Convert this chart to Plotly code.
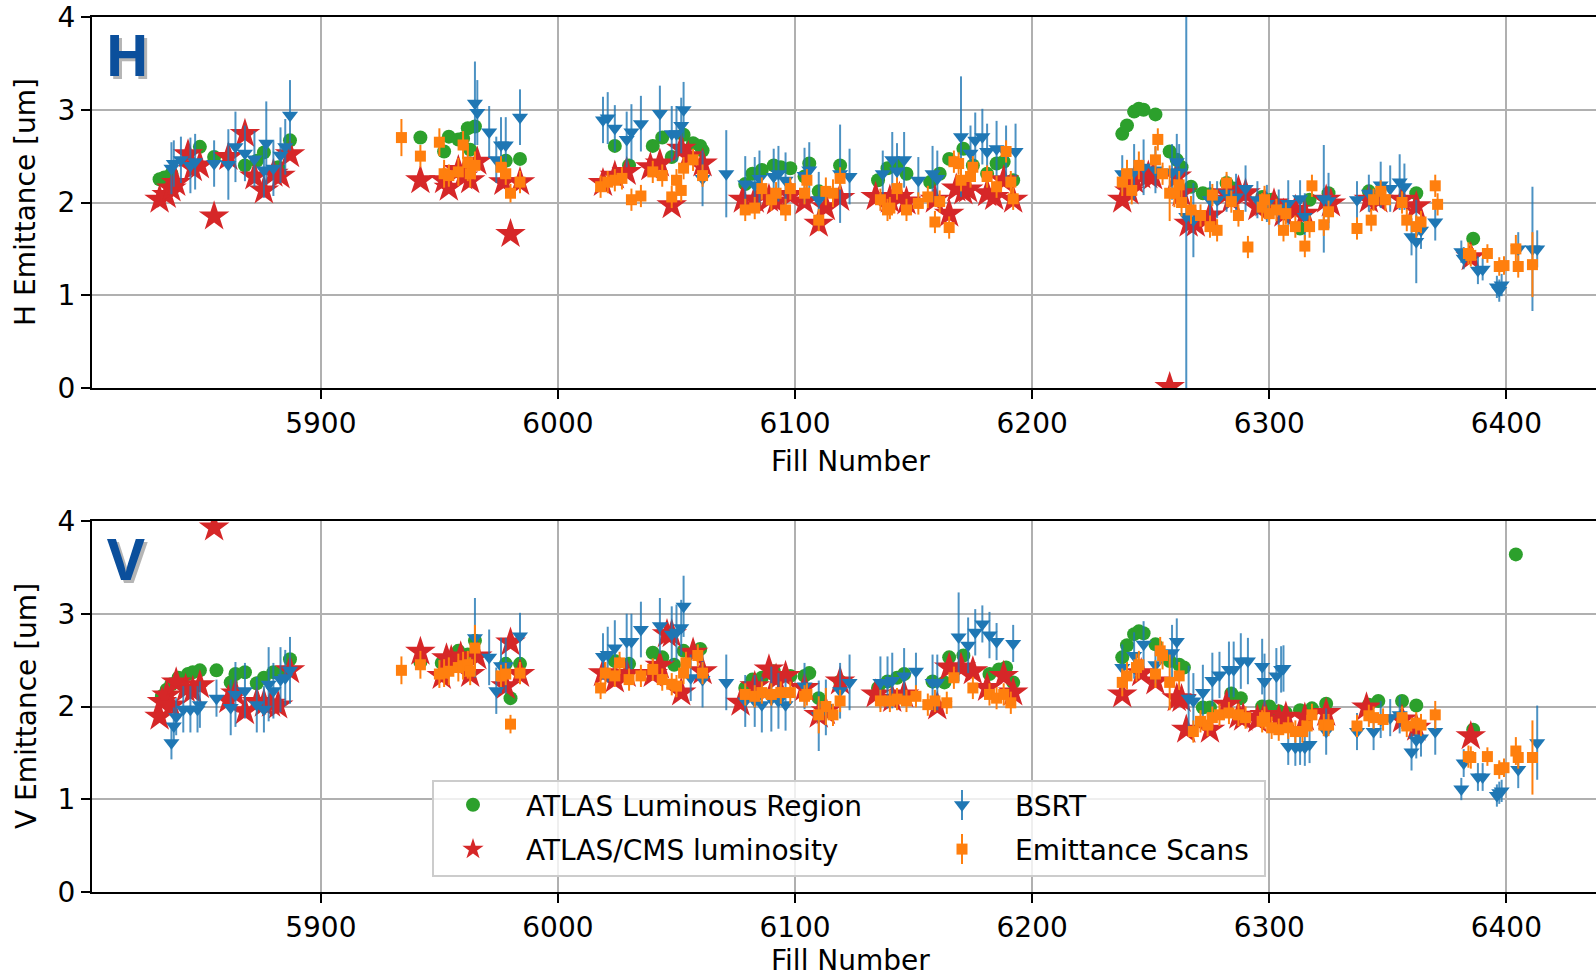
import plotly.graph_objects as go

# ---------------- DATA ----------------
TICKS_X = [5900, 6000, 6100, 6200, 6300, 6400]
TICKS_Y = [0, 1, 2, 3, 4]

# ---- H plane ----
H_LUMREG_X = [5832, 5834, 5837, 5849, 5855, 5868, 5873, 5876, 5882, 5887,
              5942, 5952, 5954, 5958, 5960, 5962, 5965, 5963, 5978, 5984,
              6024, 6030, 6040, 6044, 6048, 6053, 6057, 6060, 6061,
              6079, 6082, 6086, 6091, 6094, 6098, 6104, 6106, 6110, 6119,
              6135, 6139, 6143, 6147, 6157, 6161, 6165, 6171, 6175, 6181, 6185, 6188, 6192,
              6238, 6240, 6243, 6245, 6247, 6252, 6258, 6261, 6263, 6267, 6272, 6275, 6282, 6285,
              6297, 6301, 6313, 6317, 6325,
              6342, 6362,
              6386]
H_LUMREG_Y = [2.25, 2.27, 2.31, 2.60, 2.49, 2.40, 2.45, 2.54, 2.38, 2.67,
              2.70, 2.55, 2.71, 2.68, 2.69, 2.80, 2.82, 2.57, 2.45, 2.47,
              2.61, 2.40, 2.61, 2.70, 2.49, 2.73, 2.64, 2.61, 2.56,
              2.20, 2.31, 2.35, 2.40, 2.38, 2.37, 2.28, 2.42, 2.12, 2.40,
              2.24, 2.37, 2.40, 2.31, 2.22, 2.31, 2.47, 2.58, 2.40, 2.31, 2.42, 2.44, 2.24,
              2.74, 2.83, 2.98, 3.01, 3.00, 2.95, 2.55, 2.46, 2.38, 2.17, 2.10, 2.09, 2.21, 2.15,
              2.06, 2.03, 1.72, 2.03, 2.10,
              2.12, 2.10,
              1.61]

H_LUMI_X = [5832, 5835, 5837, 5839, 5844, 5846, 5849, 5855, 5861, 5868, 5872, 5876, 5880, 5883, 5887,
            5942, 5952, 5954, 5958, 5960, 5963, 5966, 5977, 5980, 5984,
            6019, 6024, 6029, 6039, 6043, 6048, 6052, 6055, 6061,
            6078, 6083, 6089, 6092, 6098, 6104, 6110, 6113, 6119,
            6134, 6140, 6144, 6147, 6159, 6165, 6168, 6171, 6173, 6181, 6184, 6188, 6192,
            6238, 6241, 6243, 6246, 6249, 6251, 6258, 6261, 6263, 6266, 6269, 6275, 6282, 6284, 6287, 6290,
            6295, 6298, 6302, 6306, 6311, 6315, 6324, 6326,
            6342, 6346, 6356, 6362,
            6385]
H_LUMI_Y = [2.03, 2.08, 2.15, 2.21, 2.52, 2.37, 2.40, 1.85, 2.49, 2.74, 2.28, 2.13, 2.31, 2.29, 2.52,
            2.24, 2.24, 2.16, 2.35, 2.28, 2.24, 2.44, 2.22, 1.66, 2.22,
            2.21, 2.29, 2.33, 2.38, 2.42, 1.97, 2.58, 2.50, 2.42,
            2.03, 2.03, 2.04, 2.01, 2.08, 2.01, 1.77, 1.95, 2.05,
            2.06, 2.03, 2.06, 2.01, 2.03, 1.88, 2.15, 2.12, 2.14, 2.10, 2.06, 2.24, 2.03,
            2.03, 2.12, 2.24, 2.29, 2.29, 2.28, 0.01, 2.28, 2.10, 1.77, 1.77, 1.86, 2.10, 2.03, 2.13, 2.10,
            1.95, 1.99, 1.99, 1.88, 1.92, 1.88, 2.03, 1.99,
            2.03, 2.03, 2.03, 1.96,
            1.41]

H_BSRT_X = [5837, 5838, 5841, 5845, 5847, 5855, 5861, 5864, 5868, 5872, 5876, 5877, 5880, 5883, 5885, 5887,
            5965, 5966, 5971, 5974, 5976, 5978, 5984,
            6019, 6021, 6024, 6029, 6031, 6035, 6043, 6048, 6050, 6052, 6053, 6061, 6071,
            6079, 6083, 6085, 6091, 6093, 6096, 6104, 6106, 6110, 6119, 6123,
            6137, 6141, 6143, 6146, 6152, 6158, 6160, 6170, 6174, 6176, 6179, 6181, 6185, 6189, 6193,
            6238, 6243, 6247, 6252, 6259, 6261, 6262, 6265, 6268, 6275, 6278, 6282, 6286, 6290,
            6295, 6299, 6304, 6308, 6313, 6315, 6323, 6325,
            6337, 6342, 6347, 6351, 6355, 6357, 6360, 6362, 6364, 6370,
            6381, 6382, 6388, 6390, 6396, 6397, 6398, 6405, 6411, 6413]
H_BSRT_Y = [2.37, 2.42, 2.46, 2.40, 2.44, 2.42, 2.41, 2.60, 2.53, 2.47, 2.35, 2.64, 2.37, 2.51, 2.60, 2.94,
            3.07, 2.97, 2.76, 2.46, 2.62, 2.62, 2.92,
            2.89, 2.91, 2.80, 2.68, 2.76, 2.85, 2.96, 2.74, 2.74, 2.83, 3.00, 2.26, 2.31,
            2.20, 2.19, 2.26, 2.28, 2.31, 2.24, 2.29, 2.35, 2.03, 2.31, 2.28,
            2.31, 2.46, 2.34, 2.46, 2.24, 2.31, 2.26, 2.71, 2.53, 2.67, 2.71, 2.55, 2.58, 2.53, 2.55,
            2.31, 2.33, 2.38, 2.35, 2.33, 2.44, 2.33, 1.85, 1.81, 2.03, 2.03, 2.10, 2.06, 2.15,
            2.03, 1.99, 1.94, 1.99, 2.04, 1.85, 2.04, 2.02,
            2.03, 2.10, 2.19, 2.15, 2.22, 2.17, 1.63, 1.58, 1.70, 1.79,
            1.47, 1.40, 1.27, 1.28, 1.09, 1.05, 1.11, 1.50, 1.50, 1.50]
H_BSRT_E = [0.28, 0.25, 0.25, 0.30, 0.30, 0.25, 0.38, 0.38, 0.30, 0.30, 0.30, 0.45, 0.30, 0.30, 0.30, 0.38,
            0.45, 0.35, 0.28, 0.25, 0.30, 0.30, 0.30,
            0.25, 0.28, 0.25, 0.30, 0.30, 0.30, 0.30, 0.30, 0.30, 0.30, 0.30, 0.30, 0.47,
            0.30, 0.30, 0.30, 0.30, 0.30, 0.30, 0.30, 0.30, 0.30, 0.53, 0.30,
            0.25, 0.30, 0.30, 0.30, 0.25, 0.30, 0.30, 0.65, 0.30, 0.30, 0.30, 0.30, 0.30, 0.30, 0.30,
            0.20, 0.30, 0.30, 0.25, 0.30, 0.30, 0.30, 2.60, 0.40, 0.20, 0.20, 0.20, 0.25, 0.25,
            0.20, 0.20, 0.20, 0.25, 0.20, 0.25, 0.58, 0.30,
            0.20, 0.20, 0.25, 0.25, 0.30, 0.25, 0.20, 0.45, 0.20, 0.20,
            0.12, 0.12, 0.15, 0.12, 0.12, 0.12, 0.12, 0.18, 0.67, 0.20]

H_SCAN_X = [5934, 5942, 5950, 5952, 5954, 5958, 5960, 5962, 5963, 5965, 5976, 5978, 5980, 5984,
            6018, 6021, 6024, 6027, 6031, 6035, 6040, 6044, 6048, 6050, 6052, 6053, 6057, 6061,
            6079, 6083, 6086, 6090, 6092, 6096, 6098, 6104, 6105, 6110, 6113, 6116, 6119,
            6136, 6139, 6140, 6143, 6147, 6152, 6156, 6159, 6161, 6165, 6167, 6169, 6170, 6174, 6175, 6181, 6185, 6189, 6191, 6192,
            6238, 6240, 6242, 6245, 6252, 6253, 6255, 6258, 6260, 6262, 6263, 6267, 6271, 6275, 6278, 6276, 6282, 6284, 6287, 6291,
            6297, 6298, 6300, 6303, 6306, 6307, 6311, 6315, 6317, 6318, 6323, 6325,
            6337, 6343, 6344, 6347, 6349, 6356, 6358, 6362, 6364, 6370, 6371,
            6384, 6385, 6392, 6397, 6399, 6404, 6405, 6411]
H_SCAN_Y = [2.70, 2.50, 2.65, 2.31, 2.29, 2.33, 2.62, 2.43, 2.31, 2.40, 2.38, 2.31, 2.10, 2.22,
            2.17, 2.22, 2.24, 2.26, 2.03, 2.07, 2.33, 2.29, 2.06, 2.24, 2.13, 2.37, 2.46, 2.29,
            1.92, 1.94, 2.15, 2.03, 2.10, 1.92, 2.15, 2.10, 2.24, 1.81, 2.12, 2.10, 2.26,
            2.03, 1.92, 1.94, 2.15, 1.92, 1.99, 2.06, 1.79, 2.01, 1.73, 2.44, 2.42, 2.24, 2.28, 2.38, 2.28, 2.17, 2.55, 2.22, 2.04,
            2.22, 2.31, 2.13, 2.40, 2.46, 2.68, 2.31, 2.10, 2.10, 2.19, 2.00, 1.92, 1.86, 1.74, 1.70, 2.08, 2.21, 2.01, 1.86, 1.52,
            1.95, 2.03, 1.88, 1.92, 1.70, 1.88, 1.74, 1.53, 1.74, 2.18, 1.76, 1.90,
            1.72, 1.81, 2.03, 2.12, 2.03, 2.00, 1.81, 1.74, 1.79, 2.18, 1.98,
            1.45, 1.43, 1.45, 1.31, 1.32, 1.50, 1.31, 1.33]
H_SCAN_E = [0.20, 0.12, 0.15, 0.15, 0.12, 0.15, 0.15, 0.20, 0.15, 0.15, 0.12, 0.12, 0.10, 0.12,
            0.12, 0.12, 0.12, 0.12, 0.12, 0.12, 0.12, 0.12, 0.12, 0.12, 0.12, 0.12, 0.12, 0.12,
            0.12, 0.12, 0.12, 0.12, 0.12, 0.12, 0.12, 0.12, 0.12, 0.12, 0.15, 0.15, 0.12,
            0.12, 0.12, 0.12, 0.12, 0.12, 0.12, 0.12, 0.12, 0.12, 0.12, 0.12, 0.12, 0.12, 0.12, 0.12, 0.12, 0.12, 0.12, 0.12, 0.12,
            0.15, 0.15, 0.15, 0.15, 0.15, 0.12, 0.12, 0.30, 0.15, 0.15, 0.15, 0.15, 0.12, 0.12, 0.12, 0.12, 0.12, 0.12, 0.12, 0.12,
            0.15, 0.15, 0.12, 0.12, 0.12, 0.12, 0.12, 0.12, 0.12, 0.12, 0.12, 0.12,
            0.12, 0.12, 0.12, 0.12, 0.12, 0.12, 0.12, 0.12, 0.12, 0.12, 0.12,
            0.12, 0.12, 0.10, 0.10, 0.10, 0.15, 0.12, 0.35]

# ---- V plane ----
V_LUMREG_X = [5833, 5835, 5837, 5840, 5844, 5846, 5849, 5856, 5862, 5864, 5868, 5873, 5876, 5880, 5883, 5887,
              5942, 5951, 5954, 5958, 5962, 5965, 5978, 5980, 5984,
              6024, 6030, 6040, 6044, 6049, 6053, 6060,
              6079, 6082, 6086, 6091, 6098, 6104, 6106, 6110, 6119,
              6135, 6139, 6143, 6146, 6158, 6163, 6165, 6171, 6182, 6186, 6189, 6192,
              6238, 6240, 6243, 6245, 6247, 6252, 6258, 6262, 6264, 6272, 6275, 6284, 6288,
              6297, 6300, 6304, 6307, 6313, 6318, 6324,
              6342, 6346, 6356, 6362,
              6386, 6404]
V_LUMREG_Y = [2.11, 2.18, 2.24, 2.31, 2.35, 2.37, 2.39, 2.39, 2.26, 2.35, 2.37, 2.25, 2.31, 2.37, 2.36, 2.51,
              2.48, 2.47, 2.52, 2.60, 2.56, 2.71, 2.46, 2.09, 2.46,
              2.49, 2.46, 2.58, 2.53, 2.45, 2.60, 2.62,
              2.20, 2.29, 2.31, 2.38, 2.33, 2.33, 2.36, 2.09, 2.27,
              2.20, 2.27, 2.31, 2.35, 2.27, 2.26, 2.53, 2.55, 2.35, 2.40, 2.42, 2.26,
              2.53, 2.66, 2.78, 2.81, 2.79, 2.67, 2.49, 2.45, 2.42, 1.99, 1.99, 2.14, 2.09,
              2.00, 2.00, 1.95, 1.93, 1.96, 1.98, 2.03,
              2.02, 2.06, 2.06, 2.01,
              1.75, 3.64]

V_LUMI_X = [5832, 5833, 5835, 5837, 5839, 5843, 5846, 5849, 5855, 5861, 5864, 5868, 5873, 5876, 5879, 5882, 5887,
            5942, 5951, 5953, 5955, 5959, 5963, 5966, 5978, 5980, 5984,
            6019, 6024, 6029, 6040, 6043, 6046, 6048, 6052, 6057, 6061,
            6077, 6083, 6089, 6092, 6096, 6104, 6110, 6113, 6119,
            6134, 6141, 6146, 6160, 6165, 6170, 6175, 6181, 6188, 6192,
            6238, 6246, 6252, 6261, 6263, 6265, 6275, 6282, 6287, 6289,
            6295, 6298, 6304, 6307, 6315, 6324,
            6341, 6356, 6362,
            6385]
V_LUMI_Y = [1.89, 2.05, 2.12, 2.01, 2.26, 2.19, 2.17, 2.23, 3.93, 2.07, 2.14, 1.95, 2.05, 2.03, 2.03, 2.01, 2.39,
            2.59, 2.33, 2.52, 2.50, 2.54, 2.35, 2.54, 2.22, 2.69, 2.35,
            2.36, 2.29, 2.35, 2.35, 2.44, 2.78, 2.78, 2.15, 2.58, 2.38,
            2.04, 2.22, 2.40, 2.30, 2.33, 2.20, 1.91, 1.95, 2.27,
            2.13, 2.08, 2.13, 2.00, 2.42, 2.42, 2.38, 2.20, 2.33, 2.15,
            2.13, 2.36, 2.27, 2.09, 2.08, 1.75, 1.75, 2.02, 1.90, 1.88,
            1.86, 1.91, 1.86, 1.89, 1.88, 1.93,
            1.99, 1.86, 1.77,
            1.68]

V_BSRT_X = [5837, 5838, 5839, 5842, 5845, 5848, 5849, 5856, 5862, 5864, 5868, 5873, 5876, 5878, 5880, 5883, 5885, 5887,
            5965, 5971, 5974, 5976, 5978, 5984,
            6019, 6021, 6024, 6029, 6031, 6035, 6043, 6048, 6050, 6052, 6053, 6056, 6061, 6071,
            6079, 6083, 6086, 6090, 6093, 6096, 6104, 6110, 6113, 6119, 6123,
            6136, 6139, 6141, 6146, 6151, 6158, 6160, 6169, 6173, 6176, 6179, 6182, 6185, 6192,
            6238, 6243, 6247, 6252, 6259, 6261, 6266, 6268, 6272, 6276, 6279, 6283, 6285, 6288, 6291,
            6297, 6298, 6303, 6305, 6306, 6308, 6311, 6313, 6315, 6317, 6324,
            6337, 6344, 6347, 6351, 6355, 6360, 6362, 6364, 6370,
            6381, 6382, 6388, 6390, 6396, 6397, 6398, 6405, 6413]
V_BSRT_Y = [1.61, 1.79, 1.89, 1.97, 1.97, 1.97, 2.02, 2.09, 1.99, 2.13, 2.17, 2.02, 1.97, 2.24, 2.17, 2.29, 2.31, 2.39,
            2.74, 2.53, 2.17, 2.44, 2.44, 2.76,
            2.54, 2.56, 2.63, 2.70, 2.70, 2.83, 2.87, 2.78, 2.80, 2.85, 3.08, 2.31, 2.29, 2.26,
            2.06, 2.06, 2.02, 2.08, 2.06, 2.02, 2.22, 1.90, 1.99, 2.17, 2.26,
            2.26, 2.26, 2.28, 2.33, 2.38, 2.26, 2.26, 2.75, 2.66, 2.80, 2.89, 2.77, 2.70, 2.68,
            2.42, 2.55, 2.67, 2.45, 2.58, 2.70, 2.09, 2.06, 2.15, 2.28, 2.34, 2.40, 2.40, 2.49, 2.49,
            2.43, 2.27, 2.33, 2.40, 2.41, 1.57, 1.56, 1.57, 1.56, 1.59, 1.73,
            1.73, 1.73, 1.86, 1.88, 1.91, 1.51, 1.64, 1.66, 1.73,
            1.11, 1.39, 1.24, 1.24, 1.04, 1.07, 1.09, 1.32, 1.61]
V_BSRT_E = [0.18, 0.20, 0.20, 0.25, 0.25, 0.25, 0.25, 0.20, 0.30, 0.35, 0.30, 0.30, 0.25, 0.40, 0.30, 0.35, 0.30, 0.36,
            0.43, 0.30, 0.25, 0.30, 0.30, 0.25,
            0.25, 0.30, 0.30, 0.30, 0.30, 0.30, 0.30, 0.30, 0.30, 0.30, 0.33, 0.25, 0.30, 0.30,
            0.28, 0.28, 0.30, 0.35, 0.30, 0.28, 0.25, 0.38, 0.30, 0.30, 0.30,
            0.28, 0.28, 0.30, 0.30, 0.20, 0.30, 0.30, 0.48, 0.30, 0.25, 0.20, 0.25, 0.20, 0.20,
            0.25, 0.25, 0.25, 0.20, 0.30, 0.25, 0.35, 0.30, 0.30, 0.30, 0.25, 0.30, 0.30, 0.30, 0.25,
            0.30, 0.30, 0.30, 0.25, 0.25, 0.20, 0.20, 0.20, 0.20, 0.20, 0.25,
            0.20, 0.20, 0.20, 0.20, 0.20, 0.20, 0.20, 0.20, 0.25,
            0.12, 0.15, 0.15, 0.15, 0.12, 0.12, 0.12, 0.20, 0.40]

V_SCAN_X = [5934, 5942, 5950, 5952, 5954, 5958, 5960, 5962, 5963, 5965, 5976, 5978, 5980, 5984,
            6018, 6020, 6024, 6026, 6030, 6035, 6040, 6044, 6048, 6050, 6053, 6054, 6059, 6061,
            6079, 6083, 6086, 6090, 6094, 6098, 6104, 6105, 6110, 6113, 6116, 6119,
            6136, 6140, 6143, 6147, 6151, 6156, 6159, 6164, 6167, 6175, 6182, 6185, 6188, 6191,
            6238, 6240, 6244, 6245, 6252, 6254, 6255, 6258, 6262, 6268, 6271, 6274, 6276, 6279, 6283, 6287, 6290,
            6297, 6298, 6301, 6304, 6308, 6311, 6314, 6316, 6318, 6323, 6325,
            6337, 6342, 6344, 6348, 6356, 6358, 6362, 6364, 6370,
            6384, 6385, 6392, 6397, 6399, 6404, 6405, 6411]
V_SCAN_Y = [2.39, 2.45, 2.35, 2.36, 2.38, 2.42, 2.44, 2.45, 2.38, 2.63, 2.33, 2.35, 1.81, 2.36,
            2.20, 2.36, 2.33, 2.47, 2.29, 2.33, 2.40, 2.29, 2.24, 2.22, 2.36, 2.47, 2.55, 2.36,
            2.13, 2.11, 2.15, 2.13, 2.15, 2.15, 2.11, 2.13, 1.91, 2.00, 1.91, 2.06,
            2.06, 2.06, 2.08, 2.06, 2.11, 2.02, 2.06, 2.04, 2.31, 2.20, 2.13, 2.09, 2.13, 2.04,
            2.26, 2.33, 2.42, 2.45, 2.35, 2.60, 2.55, 2.26, 2.33, 1.73, 1.84, 1.80, 1.88, 1.91, 1.93, 1.91, 1.88,
            1.84, 1.88, 1.77, 1.75, 1.77, 1.73, 1.73, 1.79, 1.91, 1.80, 1.80,
            1.79, 1.90, 1.88, 1.86, 1.88, 1.79, 1.82, 1.80, 1.91,
            1.46, 1.45, 1.46, 1.32, 1.34, 1.52, 1.45, 1.45]
V_SCAN_E = [0.15, 0.15, 0.15, 0.15, 0.15, 0.15, 0.15, 0.15, 0.15, 0.25, 0.12, 0.12, 0.10, 0.12,
            0.12, 0.12, 0.12, 0.12, 0.12, 0.12, 0.12, 0.12, 0.12, 0.12, 0.12, 0.12, 0.12, 0.12,
            0.12, 0.12, 0.12, 0.12, 0.12, 0.12, 0.12, 0.12, 0.20, 0.20, 0.12, 0.12,
            0.12, 0.12, 0.12, 0.12, 0.12, 0.12, 0.12, 0.12, 0.12, 0.12, 0.12, 0.12, 0.12, 0.12,
            0.15, 0.15, 0.15, 0.15, 0.15, 0.15, 0.15, 0.30, 0.15, 0.12, 0.12, 0.12, 0.12, 0.12, 0.12, 0.12, 0.12,
            0.12, 0.12, 0.12, 0.12, 0.12, 0.12, 0.12, 0.12, 0.12, 0.12, 0.12,
            0.12, 0.12, 0.12, 0.12, 0.12, 0.12, 0.12, 0.12, 0.15,
            0.12, 0.12, 0.10, 0.10, 0.10, 0.15, 0.12, 0.40]

NAMES = ["ATLAS Luminous Region", "ATLAS/CMS luminosity", "BSRT", "Emittance Scans"]
COLORS = ["#2ca02c", "#d62728", "#1f77b4", "#ff7f0e"]

# ---------------- FIGURE ----------------
W, H = 1596, 979
FONT = "DejaVu Sans"


def px_x(p):
    return p / W


def px_y(p):
    return 1 - p / H


fig = go.Figure()


def add_panel(xa, ya, lx, ly, rx, ry, bx, by, be, sx, sy, se, show):
    common = dict(xaxis=xa, yaxis=ya, mode="markers")
    fig.add_trace(go.Scatter(x=lx, y=ly, name=NAMES[0], legend="legend",
                             legendgroup="g1", showlegend=show, legendrank=1,
                             marker=dict(symbol="circle", size=14, color=COLORS[0]), **common))
    fig.add_trace(go.Scatter(x=rx, y=ry, name=NAMES[1], legend="legend",
                             legendgroup="g2", showlegend=show, legendrank=2,
                             marker=dict(symbol="star", size=23, color=COLORS[1]), **common))
    fig.add_trace(go.Scatter(x=bx, y=by, name=NAMES[2], legend="legend2",
                             legendgroup="g3", showlegend=show, legendrank=3,
                             marker=dict(symbol="triangle-down", size=14, color=COLORS[2]),
                             error_y=dict(type="data", array=be, visible=True, thickness=2,
                                          width=0, color="rgba(31,119,180,0.8)"), **common))
    fig.add_trace(go.Scatter(x=sx, y=sy, name=NAMES[3], legend="legend2",
                             legendgroup="g4", showlegend=show, legendrank=4,
                             marker=dict(symbol="square", size=11, color=COLORS[3]),
                             error_y=dict(type="data", array=se, visible=True, thickness=2,
                                          width=0, color=COLORS[3]), **common))


add_panel("x", "y", H_LUMREG_X, H_LUMREG_Y, H_LUMI_X, H_LUMI_Y,
          H_BSRT_X, H_BSRT_Y, H_BSRT_E, H_SCAN_X, H_SCAN_Y, H_SCAN_E, False)
add_panel("x2", "y2", V_LUMREG_X, V_LUMREG_Y, V_LUMI_X, V_LUMI_Y,
          V_BSRT_X, V_BSRT_Y, V_BSRT_E, V_SCAN_X, V_SCAN_Y, V_SCAN_E, True)

XRANGE = [5803.5, 6437.8]
xdom = [px_x(92), 1.0]

axis_common = dict(showline=True, linecolor="black", linewidth=2, automargin=False,
                   ticks="outside", ticklen=9, tickwidth=2, tickcolor="black",
                   showgrid=True, gridcolor="#b0b0b0", gridwidth=2,
                   zeroline=False, tickfont=dict(family=FONT, size=28, color="black"))

# legend frame and the error-bar strokes of the legend symbols (decoration only)
shapes = [dict(type="rect", xref="paper", yref="paper",
               x0=px_x(433), x1=px_x(1265), y0=px_y(876), y1=px_y(781),
               fillcolor="rgba(255,255,255,0.8)", line=dict(color="#cccccc", width=2),
               layer="above")]
for cy, col in [(805, "rgba(31,119,180,0.85)"), (849, COLORS[3])]:
    shapes.append(dict(type="line", xref="paper", yref="paper",
                       x0=px_x(962), x1=px_x(962), y0=px_y(cy + 15), y1=px_y(cy - 15),
                       line=dict(color=col, width=2), layer="above"))

fig.update_layout(
    width=W, height=H,
    margin=dict(l=0, r=0, t=0, b=0, autoexpand=False),
    paper_bgcolor="white", plot_bgcolor="white",
    font=dict(family=FONT, color="black"),
    xaxis=dict(domain=xdom, range=XRANGE, tickvals=TICKS_X, mirror=True, anchor="y", **axis_common),
    yaxis=dict(domain=[px_y(388), px_y(17)], range=[0, 4], tickvals=TICKS_Y, anchor="x", **axis_common),
    xaxis2=dict(domain=xdom, range=XRANGE, tickvals=TICKS_X, mirror=True, anchor="y2", **axis_common),
    yaxis2=dict(domain=[px_y(892), px_y(521)], range=[0, 4], tickvals=TICKS_Y, anchor="x2", **axis_common),
    legend=dict(x=px_x(420), y=px_y(827), xanchor="left", yanchor="middle",
                bgcolor="rgba(0,0,0,0)", borderwidth=0, itemwidth=96,
                traceorder="grouped", tracegroupgap=5,
                font=dict(family=FONT, size=28, color="black")),
    legend2=dict(x=px_x(909), y=px_y(827), xanchor="left", yanchor="middle",
                 bgcolor="rgba(0,0,0,0)", borderwidth=0, itemwidth=96,
                 traceorder="grouped", tracegroupgap=5,
                 font=dict(family=FONT, size=28, color="black")),
    shapes=shapes,
)

annotations = [
    dict(text="Fill Number", x=px_x(850), y=px_y(461), showarrow=False,
         font=dict(family=FONT, size=28, color="black")),
    dict(text="Fill Number", x=px_x(850), y=px_y(960), showarrow=False,
         font=dict(family=FONT, size=28, color="black")),
    dict(text="H Emittance [um]", x=px_x(26), y=px_y(202), showarrow=False, textangle=-90,
         font=dict(family=FONT, size=28, color="black")),
    dict(text="V Emittance [um]", x=px_x(26), y=px_y(706), showarrow=False, textangle=-90,
         font=dict(family=FONT, size=28, color="black")),
]
for lab, cx, cy in [("H", 127, 54), ("V", 126, 557)]:
    annotations.append(dict(text="<b>%s</b>" % lab, x=px_x(cx + 3), y=px_y(cy + 3), showarrow=False,
                            font=dict(family="Open Sans", size=58, color="rgba(120,120,120,0.55)")))
    annotations.append(dict(text="<b>%s</b>" % lab, x=px_x(cx), y=px_y(cy), showarrow=False,
                            font=dict(family="Open Sans", size=58, color="#0b4f9c")))
for a in annotations:
    a.update(xref="paper", yref="paper", xanchor="center", yanchor="middle")
fig.update_layout(annotations=annotations)

fig.write_html("out.html")
